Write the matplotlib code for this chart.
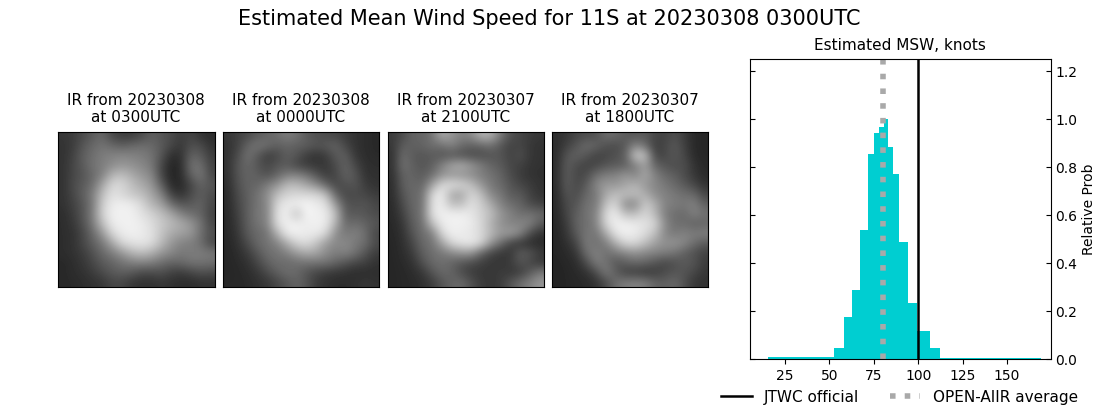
import matplotlib
matplotlib.use("Agg")
import matplotlib.pyplot as plt
import numpy as np

# histogram of estimated MSW
bin_edges = [15.6, 52.6, 58.2, 62.7, 67.2, 71.7, 75.1, 77.9, 80.7, 83.0, 85.8,
             89.2, 94.2, 99.3, 106.6, 112.2, 169.0]
rel_prob = [0.010, 0.047, 0.176, 0.289, 0.539, 0.856, 0.943, 0.968, 1.0, 0.885,
            0.772, 0.489, 0.235, 0.118, 0.047, 0.006]
jtwc_official = 100
open_aiir_avg = 80

x_ticks = [25, 50, 75, 100, 125, 150]
y_ticks = [0.0, 0.2, 0.4, 0.6, 0.8, 1.0, 1.2]

ir_titles = ["IR from 20230308\nat 0300UTC", "IR from 20230308\nat 0000UTC",
             "IR from 20230307\nat 2100UTC", "IR from 20230307\nat 1800UTC"]

# coarse grey levels of the IR frames, estimated by eye
ir_0300 = [
    [55, 60, 75, 90, 105, 70, 60, 60, 75, 95, 85, 75, 60, 70, 50, 45],
    [50, 60, 85, 105, 115, 105, 95, 105, 110, 105, 90, 70, 55, 80, 75, 50],
    [50, 65, 95, 110, 125, 130, 135, 130, 125, 115, 85, 45, 50, 100, 90, 60],
    [50, 70, 90, 115, 125, 140, 150, 145, 135, 120, 70, 35, 45, 115, 110, 65],
    [50, 70, 85, 105, 130, 180, 190, 170, 150, 135, 70, 35, 45, 100, 120, 70],
    [50, 75, 90, 110, 165, 215, 215, 190, 170, 150, 95, 40, 40, 70, 100, 85],
    [50, 70, 95, 125, 190, 225, 215, 200, 190, 165, 130, 65, 50, 75, 95, 75],
    [50, 65, 85, 120, 205, 235, 240, 235, 215, 180, 160, 110, 85, 90, 100, 70],
    [45, 60, 85, 125, 210, 240, 240, 240, 225, 210, 190, 165, 130, 110, 100, 65],
    [45, 55, 80, 120, 190, 235, 240, 240, 235, 220, 200, 185, 170, 150, 115, 70],
    [45, 50, 70, 105, 150, 215, 235, 240, 235, 225, 195, 170, 160, 150, 110, 80],
    [45, 50, 70, 95, 120, 165, 215, 225, 230, 220, 185, 150, 130, 125, 110, 70],
    [45, 50, 60, 80, 105, 125, 150, 180, 190, 175, 150, 135, 120, 125, 125, 120],
    [40, 45, 55, 70, 90, 100, 115, 125, 130, 125, 110, 100, 105, 115, 115, 110],
    [40, 45, 50, 60, 75, 90, 95, 90, 75, 75, 80, 65, 60, 70, 80, 75],
    [40, 42, 45, 50, 55, 70, 70, 55, 50, 50, 55, 50, 45, 45, 50, 50],
]
ir_0000 = [
    [55, 65, 75, 90, 100, 110, 125, 115, 90, 80, 75, 70, 60, 50, 45, 40],
    [50, 65, 100, 120, 110, 95, 100, 95, 95, 85, 90, 100, 70, 50, 45, 40],
    [50, 75, 115, 90, 60, 70, 95, 85, 60, 50, 60, 90, 95, 55, 45, 42],
    [50, 85, 105, 85, 70, 85, 90, 70, 60, 55, 55, 75, 100, 70, 48, 45],
    [48, 85, 100, 95, 80, 100, 125, 130, 115, 85, 60, 70, 100, 85, 50, 48],
    [45, 80, 100, 100, 125, 145, 185, 185, 165, 140, 100, 70, 80, 85, 60, 50],
    [42, 75, 95, 115, 140, 190, 210, 215, 215, 215, 190, 100, 70, 75, 70, 60],
    [42, 70, 95, 115, 135, 215, 235, 240, 245, 235, 225, 150, 85, 80, 85, 70],
    [40, 65, 95, 120, 130, 225, 240, 190, 245, 240, 235, 190, 90, 90, 85, 75],
    [40, 60, 95, 115, 130, 220, 240, 240, 235, 240, 235, 175, 105, 110, 100, 85],
    [40, 55, 90, 105, 115, 175, 235, 240, 235, 235, 215, 140, 120, 130, 110, 70],
    [38, 50, 75, 105, 115, 130, 170, 210, 220, 195, 155, 135, 140, 120, 110, 75],
    [38, 45, 60, 85, 110, 115, 130, 155, 170, 165, 140, 125, 130, 115, 85, 60],
    [38, 42, 50, 70, 95, 110, 105, 110, 115, 115, 115, 100, 85, 70, 65, 50],
    [38, 40, 45, 55, 75, 95, 110, 105, 85, 70, 60, 55, 50, 45, 45, 45],
    [40, 40, 42, 48, 55, 70, 85, 100, 85, 60, 50, 45, 45, 48, 55, 50],
]
ir_2100 = [
    [60, 75, 100, 100, 115, 170, 150, 130, 140, 180, 175, 120, 80, 70, 60, 55],
    [55, 95, 95, 100, 110, 110, 130, 105, 95, 100, 110, 85, 65, 70, 55, 50],
    [50, 110, 90, 85, 90, 85, 85, 80, 75, 75, 85, 85, 65, 80, 55, 50],
    [50, 115, 95, 85, 95, 130, 165, 175, 150, 125, 100, 90, 70, 65, 52, 50],
    [48, 100, 100, 90, 110, 145, 150, 145, 140, 125, 115, 100, 75, 60, 50, 48],
    [45, 95, 105, 100, 160, 215, 225, 215, 190, 150, 120, 105, 85, 70, 60, 50],
    [45, 85, 105, 110, 215, 240, 165, 165, 215, 190, 135, 120, 90, 90, 65, 52],
    [42, 75, 105, 110, 225, 235, 190, 190, 225, 205, 170, 130, 110, 100, 75, 65],
    [42, 65, 100, 115, 225, 240, 240, 240, 230, 210, 190, 150, 130, 110, 115, 105],
    [40, 55, 95, 110, 190, 235, 240, 240, 235, 215, 175, 145, 130, 135, 130, 90],
    [40, 50, 85, 110, 125, 215, 240, 235, 230, 215, 185, 155, 160, 135, 75, 50],
    [38, 48, 70, 105, 115, 160, 215, 230, 235, 215, 150, 110, 65, 50, 45, 42],
    [38, 45, 60, 95, 110, 120, 135, 150, 150, 100, 70, 55, 55, 95, 85, 60],
    [38, 42, 50, 80, 105, 110, 100, 85, 75, 65, 55, 55, 60, 85, 70, 55],
    [38, 40, 45, 55, 85, 105, 100, 75, 60, 55, 55, 60, 55, 60, 90, 120],
    [38, 40, 42, 48, 60, 85, 100, 105, 80, 60, 55, 60, 85, 110, 130, 150],
]
ir_1800 = [
    [48, 55, 70, 75, 80, 110, 105, 90, 85, 90, 70, 65, 80, 60, 40, 38],
    [45, 65, 85, 110, 100, 80, 75, 90, 135, 110, 60, 70, 90, 65, 40, 38],
    [45, 85, 100, 85, 65, 70, 80, 95, 205, 195, 70, 70, 90, 70, 42, 38],
    [45, 95, 75, 65, 70, 85, 90, 95, 125, 160, 100, 85, 75, 80, 50, 40],
    [45, 95, 70, 75, 110, 125, 130, 150, 130, 170, 130, 105, 95, 75, 55, 42],
    [45, 95, 70, 90, 135, 155, 150, 165, 180, 150, 135, 120, 105, 90, 70, 50],
    [42, 85, 75, 105, 120, 170, 190, 190, 190, 175, 140, 130, 120, 110, 105, 70],
    [42, 75, 85, 115, 120, 195, 215, 135, 135, 205, 175, 130, 125, 120, 130, 95],
    [40, 70, 95, 115, 130, 220, 235, 190, 190, 215, 185, 125, 110, 105, 130, 115],
    [40, 60, 100, 110, 130, 215, 240, 240, 235, 225, 215, 140, 110, 110, 95, 100],
    [38, 55, 90, 120, 115, 170, 230, 240, 235, 220, 190, 135, 120, 130, 125, 130],
    [38, 48, 70, 125, 110, 125, 175, 215, 215, 190, 160, 145, 150, 135, 110, 90],
    [38, 42, 55, 110, 130, 110, 120, 135, 145, 135, 130, 125, 115, 95, 80, 65],
    [36, 40, 45, 75, 125, 115, 85, 95, 105, 100, 85, 70, 80, 90, 85, 60],
    [36, 38, 42, 50, 75, 125, 95, 65, 60, 55, 60, 75, 85, 85, 70, 55],
    [36, 38, 40, 42, 50, 75, 110, 125, 130, 125, 100, 95, 105, 80, 55, 50],
]
ir_frames = [ir_0300, ir_0000, ir_2100, ir_1800]

W, H = 1100, 409
ir_boxes = [(58.0, 215.2), (223.0, 379.2), (388.0, 544.4), (552.0, 708.4)]
ir_top, ir_bottom = 131.8, 287.3

fig = plt.figure(figsize=(W / 100, H / 100), dpi=100)
fig.suptitle("Estimated Mean Wind Speed for 11S at 20230308 0300UTC", fontsize=15, x=0.4995, y=0.978)

for frame, title, (x0, x1) in zip(ir_frames, ir_titles, ir_boxes):
    ax = fig.add_axes([x0 / W, 1 - ir_bottom / H, (x1 - x0) / W, (ir_bottom - ir_top) / H])
    ax.imshow(np.array(frame), cmap="gray", vmin=0, vmax=255, interpolation="bicubic", aspect="auto")
    ax.set_xticks([])
    ax.set_yticks([])
    ax.set_title(title, fontsize=11, pad=7, x=0.496)

ax = fig.add_axes([750.3 / W, 1 - 359.3 / H, 300.3 / W, 300 / H])
edges = np.array(bin_edges)
ax.bar(edges[:-1], rel_prob, width=np.diff(edges), align="edge", color="darkturquoise")
ax.axvline(jtwc_official, color="k", lw=1.8, label="JTWC official")
ax.axvline(open_aiir_avg, color="darkgray", ls=":", lw=4, label="OPEN-AIIR average")
ax.set_xlim(5.5, 174.5)
ax.set_ylim(0, 1.25)
ax.set_xticks(x_ticks)
ax.set_yticks(y_ticks)
ax.yaxis.tick_right()
ax.yaxis.set_label_position("right")
ax.tick_params(axis="y", direction="in", left=True, right=True)
ax.set_ylabel("Relative Prob", fontsize=10, labelpad=3.3)
ax.set_title("Estimated MSW, knots", fontsize=11, x=0.497, pad=6.7)
ax.legend(loc="upper center", bbox_to_anchor=(0.497, -0.055), ncol=2, frameon=False, fontsize=11)

fig.savefig("out.png", dpi=100)
